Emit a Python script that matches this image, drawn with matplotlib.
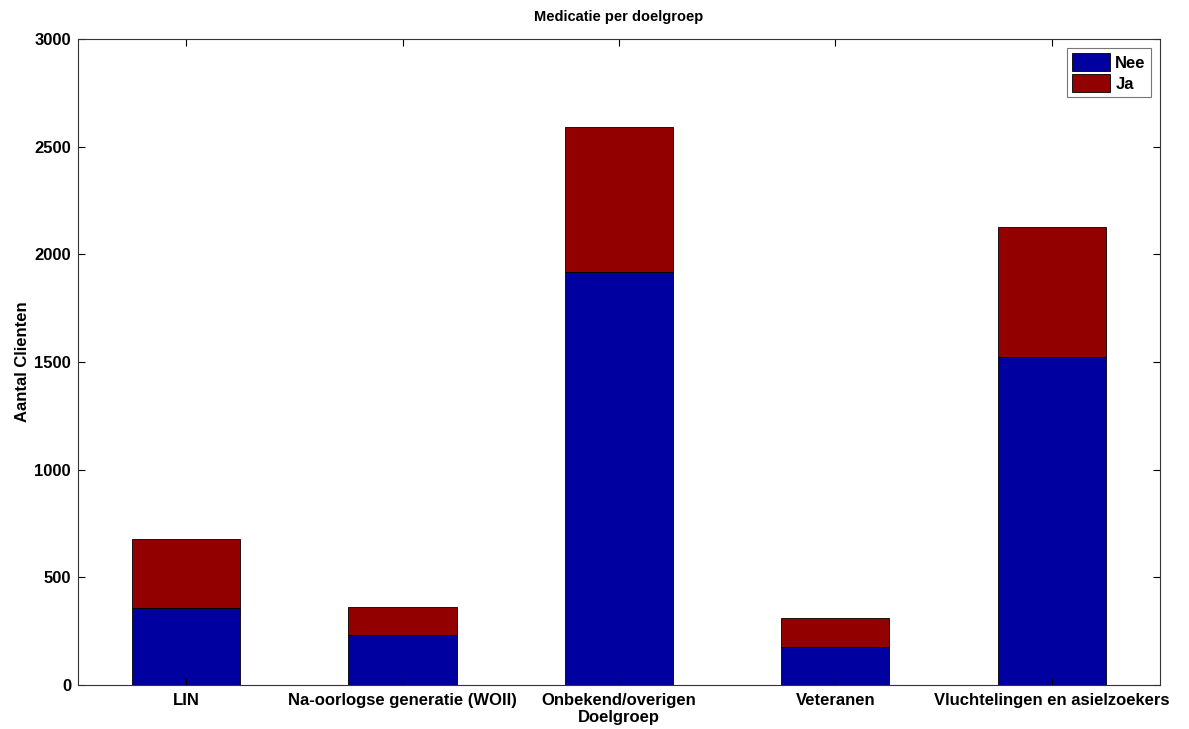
import numpy as np
import matplotlib
matplotlib.use("Agg")
import matplotlib.pyplot as plt

# medication counts per target group
groepen = ['LIN', 'Na-oorlogse generatie (WOII)', 'Onbekend/overigen',
           'Veteranen', 'Vluchtelingen en asielzoekers']
nee = [359, 232, 1919, 178, 1525]
ja = [319, 132, 674, 132, 603]

plt.rcParams['font.family'] = ['Liberation Sans', 'DejaVu Sans']
plt.rcParams['font.weight'] = 'bold'

fig = plt.figure(figsize=(11.89, 7.29), dpi=100)
ax = fig.add_axes([0.0656, 0.0604, 0.91, 0.8861])

x = np.arange(1, len(groepen) + 1)
ax.bar(x, nee, width=0.5, color='#0000a0', edgecolor='black', linewidth=0.6, label='Nee')
ax.bar(x, ja, width=0.5, bottom=nee, color='#920000', edgecolor='black', linewidth=0.6, label='Ja')

ax.set_xlim(0.5, len(groepen) + 0.5)
ax.set_ylim(0, 3000)
ax.set_xticks(x)
ax.set_xticklabels(groepen, fontsize=12, fontweight='bold')
ax.set_yticks(np.arange(0, 3001, 500))
ax.tick_params(axis='y', labelsize=12, pad=5)
ax.tick_params(axis='x', pad=6)
ax.tick_params(direction='in', length=5, width=0.8, top=True, right=True)
for s in ax.spines.values():
    s.set_linewidth(0.8)
    s.set_color('#333333')

ax.set_title('Medicatie per doelgroep', fontsize=10.5, fontweight='bold', pad=13)
ax.set_xlabel('Doelgroep', fontsize=12, fontweight='bold', labelpad=1)
ax.set_ylabel('Aantal Clienten', fontsize=12, fontweight='bold', labelpad=3)

leg = ax.legend(loc='upper right', fontsize=12, frameon=True, fancybox=False,
                handlelength=2.3, handleheight=1.3, borderpad=0.3,
                labelspacing=0.15, handletextpad=0.3, borderaxespad=0.55)
leg.get_frame().set_edgecolor('#555555')
leg.get_frame().set_linewidth(0.8)

fig.savefig('out.png', dpi=100)
